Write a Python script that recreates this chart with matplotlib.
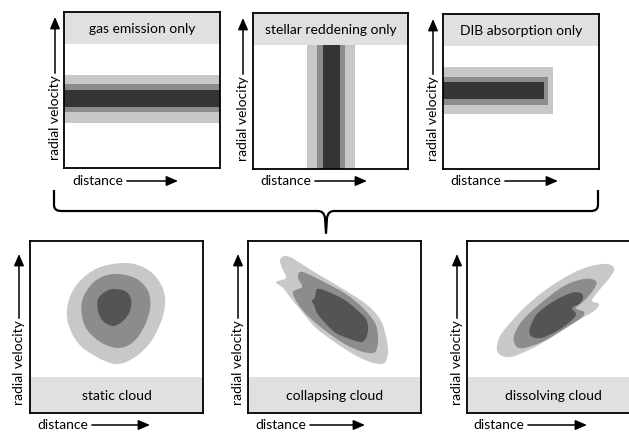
import numpy as np
import matplotlib
matplotlib.use("Agg")
import matplotlib.pyplot as plt
from matplotlib.path import Path
from matplotlib.patches import PathPatch

plt.rcParams['font.family'] = ['Lato', 'DejaVu Sans']

# ---------------- data ----------------
top_titles = ["gas emission only", "stellar reddening only", "DIB absorption only"]
bottom_titles = ["static cloud", "collapsing cloud", "dissolving cloud"]
xlabel = "distance"
ylabel = "radial velocity"

# band extents (pixel offsets inside panel): light, medium, dark
gas_y_lo = [63, 72, 78]
gas_y_hi = [111, 100, 95]
red_x_lo = [54, 64, 70]
red_x_hi = [102, 92, 87]
dib_x_len = [110, 105, 101]
dib_y_lo = [53, 63, 68]
dib_y_hi = [100, 91, 85]

# cloud outlines (pixel offsets inside panel, y from top)
static_light_x = [95, 115, 129, 135, 132, 120, 102, 85, 65, 48, 38, 38, 48, 68]
static_light_y = [22, 27, 40, 57, 78, 102, 118, 123, 115, 102, 82, 62, 42, 27]
static_mid_x = [83, 105, 118, 120, 113, 102, 88, 72, 58, 52, 53, 65]
static_mid_y = [33, 37, 50, 68, 88, 102, 107, 102, 90, 75, 57, 40]
static_dark_x = [83, 95, 101, 100, 93, 83, 73, 68, 68, 75]
static_dark_y = [48, 50, 58, 70, 80, 85, 80, 70, 58, 51]

coll_light_x = [36, 42, 49, 68, 95, 118, 132, 138, 140, 138, 133, 122, 105, 85, 68, 55, 42, 35, 28, 38, 34, 32]
coll_light_y = [15, 16, 20, 32, 48, 63, 78, 95, 110, 120, 123, 121, 113, 100, 87, 72, 56, 47, 41, 37, 27, 19]
coll_mid_x = [52, 60, 78, 98, 115, 127, 130, 129, 125, 112, 95, 75, 60, 50, 45, 54, 50]
coll_mid_y = [31, 33, 42, 53, 67, 82, 95, 107, 112, 110, 102, 88, 75, 63, 51, 46, 37]
coll_dark_x = [69, 78, 95, 108, 118, 120, 118, 113, 102, 88, 77, 69, 66, 64, 67]
coll_dark_y = [48, 50, 58, 68, 78, 88, 97, 101, 98, 92, 82, 72, 64, 60, 56]

diss_light_x = [147, 140, 124, 104, 77, 54, 35, 30, 32, 44, 64, 87, 110, 127, 132, 125, 130, 144]
diss_light_y = [27, 23, 25, 33, 50, 70, 92, 105, 113, 116, 108, 95, 80, 70, 63, 60, 52, 35]
diss_mid_x = [129, 117, 97, 74, 55, 47, 49, 57, 77, 97, 114, 117, 109, 117, 127]
diss_mid_y = [40, 38, 45, 62, 80, 95, 105, 107, 100, 88, 77, 71, 67, 60, 48]
diss_dark_x = [114, 104, 87, 70, 63, 64, 74, 90, 104, 109, 105, 112, 116]
diss_dark_y = [52, 52, 60, 73, 87, 95, 97, 90, 80, 73, 67, 63, 57]

# ---------------- style ----------------
LIGHT, MID = "#c8c8c8", "#8c8c8c"
DARK_TOP, DARK_BOT = "#343434", "#545454"
HEADER = "#e0e0e0"
FS = 10
W, H = 629, 432

fig = plt.figure(figsize=(W / 100, H / 100), dpi=100)
ov = fig.add_axes([0, 0, 1, 1])
ov.set_xlim(0, W)
ov.set_ylim(H, 0)
ov.axis("off")


def make_panel(x0, y0, w, h):
    ax = fig.add_axes([x0 / W, 1 - (y0 + h) / H, w / W, h / H])
    ax.set_xlim(0, w)
    ax.set_ylim(h, 0)
    ax.set_xticks([])
    ax.set_yticks([])
    for s in ax.spines.values():
        s.set_linewidth(1.3)
        s.set_zorder(10)
    return ax


def smooth_patch(xs, ys, color):
    P = np.column_stack([xs, ys]).astype(float)
    m = len(P)
    verts = [P[0]]
    codes = [Path.MOVETO]
    for i in range(m):
        p0, p1, p2, p3 = P[(i - 1) % m], P[i], P[(i + 1) % m], P[(i + 2) % m]
        c1 = p1 + (p2 - p0) / 6.0
        c2 = p2 - (p3 - p1) / 6.0
        verts += [c1, c2, p2]
        codes += [Path.CURVE4] * 3
    return PathPatch(Path(verts, codes), facecolor=color, edgecolor="none")


def labels(x0, y0, w, h, ylab_dx, arrow_top, dist_dx, dist_y, arrow_right):
    renderer = fig.canvas.get_renderer()
    t = ov.text(x0 + ylab_dx, y0 + h - 8, ylabel, rotation=90, ha="center", va="bottom", fontsize=FS)
    bb = t.get_window_extent(renderer)
    ytop = ov.transData.inverted().transform((bb.x0, bb.y1))[1]
    ov.annotate("", xy=(x0 + ylab_dx, arrow_top), xytext=(x0 + ylab_dx, ytop - 2),
                arrowprops=dict(arrowstyle="-|>,head_length=0.7,head_width=0.3", lw=1.1, color="k",
                                shrinkA=0, shrinkB=0))
    t2 = ov.text(x0 + dist_dx, dist_y, xlabel, ha="left", va="center", fontsize=FS)
    bb2 = t2.get_window_extent(renderer)
    xr = ov.transData.inverted().transform((bb2.x1, bb2.y0))[0]
    ov.annotate("", xy=(x0 + arrow_right, dist_y), xytext=(xr + 4, dist_y),
                arrowprops=dict(arrowstyle="-|>,head_length=0.7,head_width=0.3", lw=1.1, color="k",
                                shrinkA=0, shrinkB=0))


cols = [LIGHT, MID, DARK_TOP]

# ---- top row ----
top_panels = [(64, 12, 156, 156), (253, 13, 155, 156), (443, 14, 156, 155)]
top_hdr = 32
top_lab = [(-9, 17, 8, 114), (-10, 18, 7, 114), (-10, 19, 7, 115)]

for k, ((x0, y0, w, h), (ydx, atop, ddx, arr)) in enumerate(zip(top_panels, top_lab)):
    ax = make_panel(x0, y0, w, h)
    ax.axhspan(0, top_hdr, color=HEADER, lw=0, zorder=5)
    ax.text(w / 2, top_hdr / 2 + 1, top_titles[k], ha="center", va="center", fontsize=FS, zorder=6)
    for j in range(3):
        if k == 0:
            ax.barh((gas_y_lo[j] + gas_y_hi[j]) / 2, w, height=gas_y_hi[j] - gas_y_lo[j], left=0,
                    color=cols[j], lw=0, zorder=2 + j)
        elif k == 1:
            ax.bar((red_x_lo[j] + red_x_hi[j]) / 2, h, width=red_x_hi[j] - red_x_lo[j], bottom=0,
                   color=cols[j], lw=0, zorder=2 + j)
        else:
            ax.barh((dib_y_lo[j] + dib_y_hi[j]) / 2, dib_x_len[j], height=dib_y_hi[j] - dib_y_lo[j],
                    left=0, color=cols[j], lw=0, zorder=2 + j)
    labels(x0, y0, w, h, ydx, atop, ddx, 181, arr)

# ---- bottom row ----
bot_panels = [(30, 241, 173, 172), (248, 241, 173, 172), (467, 241, 173, 172)]
bot_hdr = 36
bot_lab = [(-11, 254, 7, 120), (-10, 254, 7, 117), (-10, 254, 6, 120)]
clouds = [
    [(static_light_x, static_light_y), (static_mid_x, static_mid_y), (static_dark_x, static_dark_y)],
    [(coll_light_x, coll_light_y), (coll_mid_x, coll_mid_y), (coll_dark_x, coll_dark_y)],
    [(diss_light_x, diss_light_y), (diss_mid_x, diss_mid_y), (diss_dark_x, diss_dark_y)],
]
bcols = [LIGHT, MID, DARK_BOT]
for k, ((x0, y0, w, h), (ydx, atop, ddx, arr)) in enumerate(zip(bot_panels, bot_lab)):
    ax = make_panel(x0, y0, w, h)
    ax.axhspan(h - bot_hdr, h, color=HEADER, lw=0, zorder=5)
    ax.text(w / 2, h - bot_hdr / 2 + 1, bottom_titles[k], ha="center", va="center", fontsize=FS, zorder=6)
    for j, (xs, ys) in enumerate(clouds[k]):
        p = smooth_patch(xs, ys, bcols[j])
        p.set_zorder(2 + j)
        ax.add_patch(p)
    labels(x0, y0, w, h, ydx, atop, ddx, 425, arr)

# ---- brace ----
bx0, bx1, btop, bmid, bcx, btip = 54, 598, 190, 211, 326, 233
bv = [(bx0, btop), (bx0, bmid - 6), (bx0, bmid), (bx0 + 7, bmid),
      (bcx - 8, bmid), (bcx - 2, bmid), (bcx - 1, bmid + 7), (bcx, btip),
      (bcx + 1, bmid + 7), (bcx + 2, bmid), (bcx + 8, bmid),
      (bx1 - 7, bmid), (bx1, bmid), (bx1, bmid - 6), (bx1, btop)]
bc = [Path.MOVETO, Path.LINETO, Path.CURVE3, Path.CURVE3,
      Path.LINETO, Path.CURVE3, Path.CURVE3, Path.LINETO,
      Path.LINETO, Path.CURVE3, Path.CURVE3,
      Path.LINETO, Path.CURVE3, Path.CURVE3, Path.LINETO]
ov.add_patch(PathPatch(Path(bv, bc), facecolor="none", edgecolor="k", lw=1.6, capstyle="butt",
                       joinstyle="round"))

fig.savefig("out.png", dpi=100)
